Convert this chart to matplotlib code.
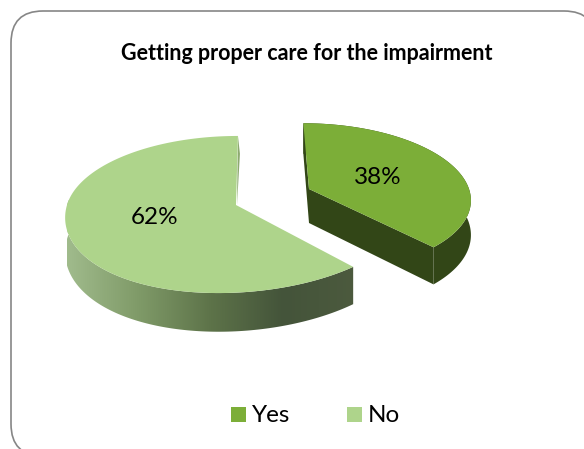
#!/usr/bin/env python
"""Exploded 3D-look pie: care for the impairment."""

import matplotlib

matplotlib.use("Agg")
import matplotlib.pyplot as plt
import numpy as np
from matplotlib.colors import LinearSegmentedColormap
from matplotlib.patches import FancyBboxPatch, Polygon, Rectangle

labels = ["Yes", "No"]
shares = [38, 62]
title = "Getting proper care for the impairment"

FONT = ["Lato", "DejaVu Sans"]
YES_TOP = "#7cae38"
YES_WALL = "#324617"
NO_TOP = "#aed48b"
NO_SIDE = "#8daa70"
NO_WALL_STOPS = ["#a0bb8c", "#7f9a68", "#5d7349", "#44543a", "#4c5a3e"]


def project(x0, y0, theta, radius=169.0, depth=0.0, lean=0.0):
    """Disc point to pixels, with a simple perspective. theta is clockwise from 12."""
    vx, persp, ry = 254.0, 0.121, 77.4
    u = radius / 169.0 * np.sin(theta)
    v = radius / 169.0 * -np.cos(theta)
    s = 1.0 / (1.0 - persp * v)
    x = vx + (x0 - vx + 169.0 * u) * s - lean * np.clip(v, 0, None) ** 2
    y = y0 + (ry * v + depth) * s
    return np.column_stack([x, y])


fig = plt.figure(figsize=(5.84, 4.49), dpi=100)
ax = fig.add_axes([0, 0, 1, 1])
ax.set_xlim(0, 584)
ax.set_ylim(449, 0)
ax.axis("off")

# Chart frame, runs off the right and bottom of the image
ax.add_patch(
    FancyBboxPatch(
        (11, 11),
        585,
        445,
        boxstyle="round,pad=0,rounding_size=32",
        facecolor="white",
        edgecolor="#868686",
        lw=1.2,
    )
)

frac = np.cumsum([0] + shares) / sum(shares) * 2 * np.pi
DEPTH = 34.0

# Yes slice, pulled to the right
x0, y0, R = 309.0, 189.0, 160.0
th = np.linspace(frac[0], frac[1], 120)
rim = project(x0, y0, th, radius=R)
apex = project(x0, y0, np.array([0.0]), radius=0.0)
ax.add_patch(
    Polygon(np.vstack([rim, project(x0, y0, th, radius=R, depth=DEPTH)[::-1]]), fc=YES_WALL, ec="none")
)
cut = np.vstack([rim[-1:], apex, project(x0, y0, np.array([0.0]), radius=0.0, depth=DEPTH),
                 project(x0, y0, th[-1:], radius=R, depth=DEPTH)])
ax.add_patch(Polygon(cut, fc=YES_WALL, ec="none"))
sliver = np.vstack([rim[:1], project(x0, y0, th[:1], radius=R, depth=DEPTH),
                    project(x0, y0, np.array([0.0]), radius=0.0, depth=DEPTH), apex])
ax.add_patch(Polygon(sliver, fc=YES_WALL, ec="none"))
ax.add_patch(Polygon(np.vstack([apex, rim]), fc=YES_TOP, ec="none"))

# No slice, outer wall with gradient
x0, y0, lean = 236.0, 205.0, 15.0
th = np.linspace(frac[1], frac[2], 200)
rim = project(x0, y0, th, lean=lean)
apex = project(x0, y0, np.array([0.0]), radius=0.0)
front = th[th < 1.5 * np.pi + 0.15]
wall = Polygon(
    np.vstack([project(x0, y0, front, lean=lean), project(x0, y0, front, depth=DEPTH, lean=lean)[::-1]]),
    fc="none",
    ec="none",
)
ax.add_patch(wall)
cmap = LinearSegmentedColormap.from_list("nowall", NO_WALL_STOPS)
img = ax.imshow(
    np.linspace(0, 1, 256)[None, :],
    cmap=cmap,
    extent=(67, 355, 340, 200),
    aspect="auto",
    zorder=1,
)
img.set_clip_path(wall)
ax.set_xlim(0, 584)
ax.set_ylim(449, 0)

# thin side of the cut at 12 o'clock
side = np.vstack([rim[-1:], project(x0, y0, th[-1:], depth=20.0) + [2.0, 0.0], apex + [1.0, 0.0]])
ax.add_patch(Polygon(side, fc=NO_SIDE, ec="none", zorder=2))
ax.add_patch(Polygon(np.vstack([apex, rim]), fc=NO_TOP, ec="none", zorder=2))

# Labels
ax.text(378, 177, f"{shares[0]}%", fontsize=17.5, family=FONT, ha="center", va="center", color="black", zorder=3)
ax.text(155, 218, f"{shares[1]}%", fontsize=17.5, family=FONT, ha="center", va="center", color="black", zorder=3)
ax.text(307, 53, title, fontsize=15.5, family=FONT, weight="bold", ha="center", va="center", color="black")

# Legend
for name, color, xbox in zip(labels, [YES_TOP, NO_TOP], [231, 347]):
    ax.add_patch(Rectangle((xbox, 407), 15, 15, fc=color, ec="none"))
    ax.text(xbox + 21, 415, name, fontsize=17.5, family=FONT, ha="left", va="center", color="black")

plt.savefig("out.png", dpi=100)
plt.close()
